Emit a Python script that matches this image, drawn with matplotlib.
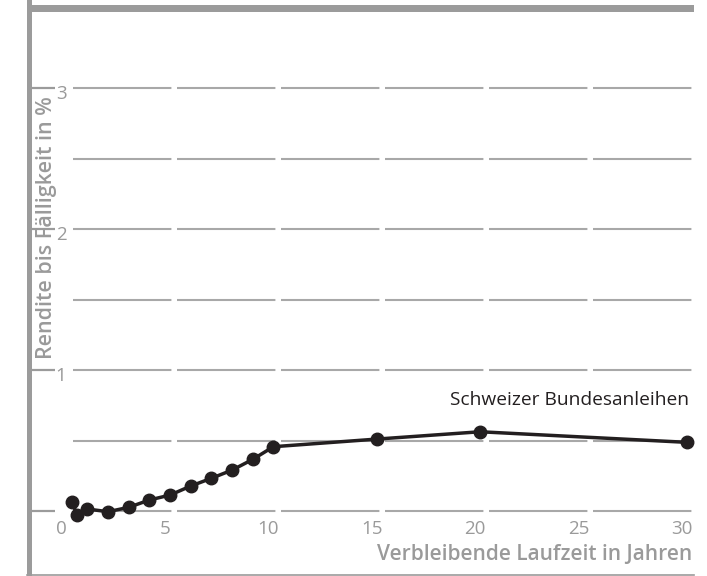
import matplotlib
matplotlib.use('Agg')
import matplotlib.pyplot as plt
from matplotlib.patches import Rectangle
from matplotlib.lines import Line2D

# data
years = [0.25, 0.5, 1, 2, 3, 4, 5, 6, 7, 8, 9, 10, 15, 20, 30]
yields = [0.066, -0.028, 0.014, -0.005, 0.026, 0.078, 0.113, 0.177,
          0.232, 0.29, 0.366, 0.456, 0.51, 0.562, 0.487]
x_ticks = [0, 5, 10, 15, 20, 25, 30]
y_ticks = [1, 2, 3]
grid_vals = [0, 0.5, 1, 1.5, 2, 2.5, 3]
series_name = 'Schweizer Bundesanleihen'
x_title = 'Verbleibende Laufzeit in Jahren'
y_title = 'Rendite bis Fälligkeit in %'

plt.rcParams['lines.scale_dashes'] = False

W, H = 707, 576
fig = plt.figure(figsize=(W / 100, H / 100), dpi=100)
ax = fig.add_axes([0, 0, 1, 1])
ax.axis('off')

# pixel scale of the reference: 0 yrs at 66.7 px, 20.67 px per year
x0, sx = 66.7, 20.67
y0, sy = 511, 141
ax.set_xlim(-x0 / sx, (W - x0) / sx)
ax.set_ylim(-(H - y0) / sy, y0 / sy)

def px(p):
    return (p - x0) / sx

def fx(p):
    return p / W

def fy(p):
    return 1 - p / H

frame = '#9b9b9b'
gridc = '#a8a8a8'
txtc = '#9a9a9a'
dark = '#231f20'

# frame
fig.add_artist(Rectangle((fx(27), fy(576)), fx(5), 1, color=frame, lw=0,
                         transform=fig.transFigure))
fig.add_artist(Rectangle((fx(27), fy(12)), fx(694 - 27), 7 / H, color=frame,
                         lw=0, transform=fig.transFigure))
fig.add_artist(Line2D([fx(27), fx(694)], [fy(575), fy(575)], color=frame,
                      lw=1.2, transform=fig.transFigure))

# gridlines, dashed with small gaps
ax.hlines(grid_vals, px(72.6), px(694), colors=gridc, lw=1.5,
          linestyles=[(0, (70.85, 4.03))], zorder=1)

# short ticks on the left spine
for v in [0] + y_ticks:
    ax.plot([px(32), px(55)], [v, v], color=frame, lw=1.6,
            solid_capstyle='butt', zorder=1)

for v in y_ticks:
    ax.text(px(61), v - 6 / sy, str(v), ha='center', va='center',
            fontsize=13.5, color=txtc, family='Open Sans')

for v in x_ticks:
    ax.text(v - 5 / sx, -(529 - y0) / sy, str(v), ha='center', va='center',
            fontsize=13.5, color=txtc, family='Open Sans')

ax.text(px(692), -(555 - y0) / sy, x_title, ha='right', va='center',
        fontsize=15, color=txtc, family='Open Sans', fontweight='semibold')
ax.text(px(46), (y0 - 228) / sy, y_title, ha='center', va='center',
        rotation=90, fontsize=15.5, color=txtc, family='Open Sans',
        fontweight='semibold')

# the curve
ax.plot(years, yields, color=dark, lw=2.5, marker='o', markersize=9,
        zorder=3)
ax.text(px(689), (y0 - 400) / sy, series_name, ha='right', va='center',
        fontsize=13.8, color=dark, family='Open Sans')

fig.savefig('out.png', dpi=100)
